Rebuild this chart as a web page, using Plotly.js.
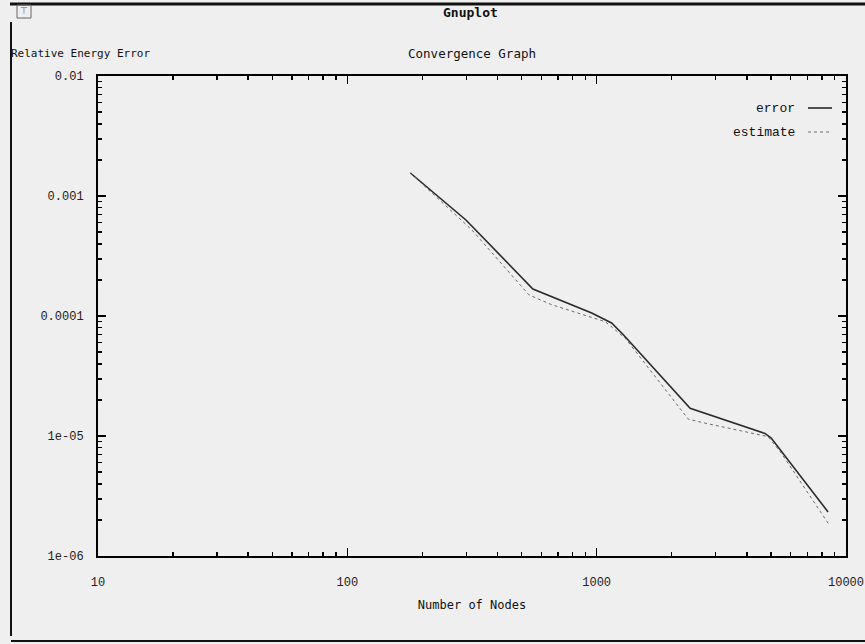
<!DOCTYPE html>
<html>
<head>
<meta charset="utf-8">
<script src="https://cdn.plot.ly/plotly-3.0.1.min.js"></script>
<style>
html,body{margin:0;padding:0;background:#efefef;}
#chart{width:865px;height:644px;}
</style>
</head>
<body>
<div id="chart"></div>
<script>
// Data (Number of Nodes vs Relative Energy Error)
const errorNodes = [179, 299, 555, 955, 1148, 1282, 2371, 4730, 5012, 8472];
const errorValues = [1.555e-3, 6.31e-4, 1.68e-4, 1.06e-4, 8.74e-5, 6.95e-5, 1.70e-5, 1.05e-5, 9.62e-6, 2.33e-6];
const estimateNodes = [179, 316, 535, 661, 1083, 1303, 2333, 2722, 4875, 5508, 8531];
const estimateValues = [1.555e-3, 5.21e-4, 1.50e-4, 1.24e-4, 8.96e-5, 6.52e-5, 1.38e-5, 1.28e-5, 9.87e-6, 7.18e-6, 1.84e-6];
const xTickVals = [10, 100, 1000, 10000];
const xTickText = ["10", "100", "1000", "10000"];
const yTickVals = [1e-6, 1e-5, 1e-4, 1e-3, 1e-2];
const yTickText = ["1e-06", "1e-05", "0.0001", "0.001", "0.01"];
const seriesNames = ["error", "estimate"];

const W = 865, H = 644;
const L = 98, R = 19, T = 76, B = 88;
const PW = W - L - R, PH = H - T - B;
// pixel -> paper (plot area) fractions, for decorations only
const px = x => (x - L) / PW;
const py = y => (H - B - y) / PH;

const traces = [
  {x: errorNodes, y: errorValues, name: seriesNames[0], mode: 'lines',
   line: {color: '#2a2a2a', width: 1.6}},
  {x: estimateNodes, y: estimateValues, name: seriesNames[1], mode: 'lines',
   line: {color: '#6a6a6a', width: 1, dash: 'dot'}}
];

const tickFont = {family: 'Liberation Mono, monospace', size: 12, color: '#222'};
const monoFont = {family: 'DejaVu Sans Mono, monospace', size: 11, color: '#111'};
const legFont = {family: 'Liberation Mono, monospace', size: 13, color: '#111'};

const layout = {
  width: W, height: H,
  paper_bgcolor: '#efefef',
  plot_bgcolor: '#efefef',
  margin: {l: L, r: R, t: T, b: B, pad: 0},
  showlegend: false,
  title: {text: 'Convergence Graph', font: {family: 'DejaVu Sans Mono, monospace', size: 12.5, color: '#111'},
          x: 472 / W, xanchor: 'center', y: 1 - 54 / H, yanchor: 'middle'},
  xaxis: {
    type: 'log', range: [1, 4], tickvals: xTickVals, ticktext: xTickText,
    ticks: 'inside', ticklen: 8, tickwidth: 1.5, tickcolor: '#000',
    showline: true, linecolor: '#000', linewidth: 2, mirror: 'ticks',
    showgrid: false, zeroline: false, tickfont: tickFont, ticklabelstandoff: 14,
    ticklabeloverflow: 'allow',
    minor: {ticks: 'inside', ticklen: 4, tickcolor: '#000', dtick: 'D1', showgrid: false},
    title: {text: 'Number of Nodes', font: {family: 'DejaVu Sans Mono, monospace', size: 12, color: '#111'}, standoff: 11}
  },
  yaxis: {
    type: 'log', range: [-6, -2], tickvals: yTickVals, ticktext: yTickText,
    ticks: 'inside', ticklen: 8, tickwidth: 1.5, tickcolor: '#000',
    showline: true, linecolor: '#000', linewidth: 2, mirror: 'ticks',
    showgrid: false, zeroline: false, tickfont: tickFont, ticklabelstandoff: 10,
    ticklabeloverflow: 'allow',
    minor: {ticks: 'inside', ticklen: 4, tickcolor: '#000', dtick: 'D1', showgrid: false}
  },
  annotations: [
    {text: '<b>Gnuplot</b>', xref: 'paper', yref: 'paper', x: px(470), y: py(13),
     xanchor: 'center', yanchor: 'middle', showarrow: false,
     font: {family: 'DejaVu Sans Mono, monospace', size: 13, color: '#111'}},
    {text: 'Relative Energy Error', xref: 'paper', yref: 'paper', x: px(9), y: py(54),
     xanchor: 'left', yanchor: 'middle', showarrow: false, font: monoFont},
    {text: seriesNames[0], xref: 'paper', yref: 'paper', x: px(797), y: py(108),
     xanchor: 'right', yanchor: 'middle', showarrow: false, font: legFont},
    {text: seriesNames[1], xref: 'paper', yref: 'paper', x: px(797), y: py(132),
     xanchor: 'right', yanchor: 'middle', showarrow: false, font: legFont},
    {text: '\u22a4', xref: 'paper', yref: 'paper', x: px(24), y: py(11),
     xanchor: 'center', yanchor: 'middle', showarrow: false,
     font: {family: 'DejaVu Sans, sans-serif', size: 9, color: '#555'}}
  ],
  shapes: [
    // window frame lines
    {type: 'line', xref: 'paper', yref: 'paper', x0: px(10), x1: px(865), y0: py(4), y1: py(4),
     line: {color: '#111', width: 3}},
    {type: 'line', xref: 'paper', yref: 'paper', x0: px(11), x1: px(11), y0: py(22), y1: py(636),
     line: {color: '#111', width: 2}},
    {type: 'line', xref: 'paper', yref: 'paper', x0: px(11), x1: px(865), y0: py(641), y1: py(641),
     line: {color: '#111', width: 2}},
    // window icon box
    {type: 'rect', xref: 'paper', yref: 'paper', x0: px(17), x1: px(31), y0: py(18), y1: py(5),
     line: {color: '#666', width: 1}},
    // legend samples
    {type: 'line', xref: 'paper', yref: 'paper', x0: px(808), x1: px(832), y0: py(108), y1: py(108),
     line: {color: '#2a2a2a', width: 1.6}},
    {type: 'line', xref: 'paper', yref: 'paper', x0: px(808), x1: px(832), y0: py(132), y1: py(132),
     line: {color: '#6a6a6a', width: 1, dash: 'dot'}}
  ]
};

Plotly.newPlot('chart', traces, layout, {displayModeBar: false, staticPlot: true});
</script>
</body>
</html>
